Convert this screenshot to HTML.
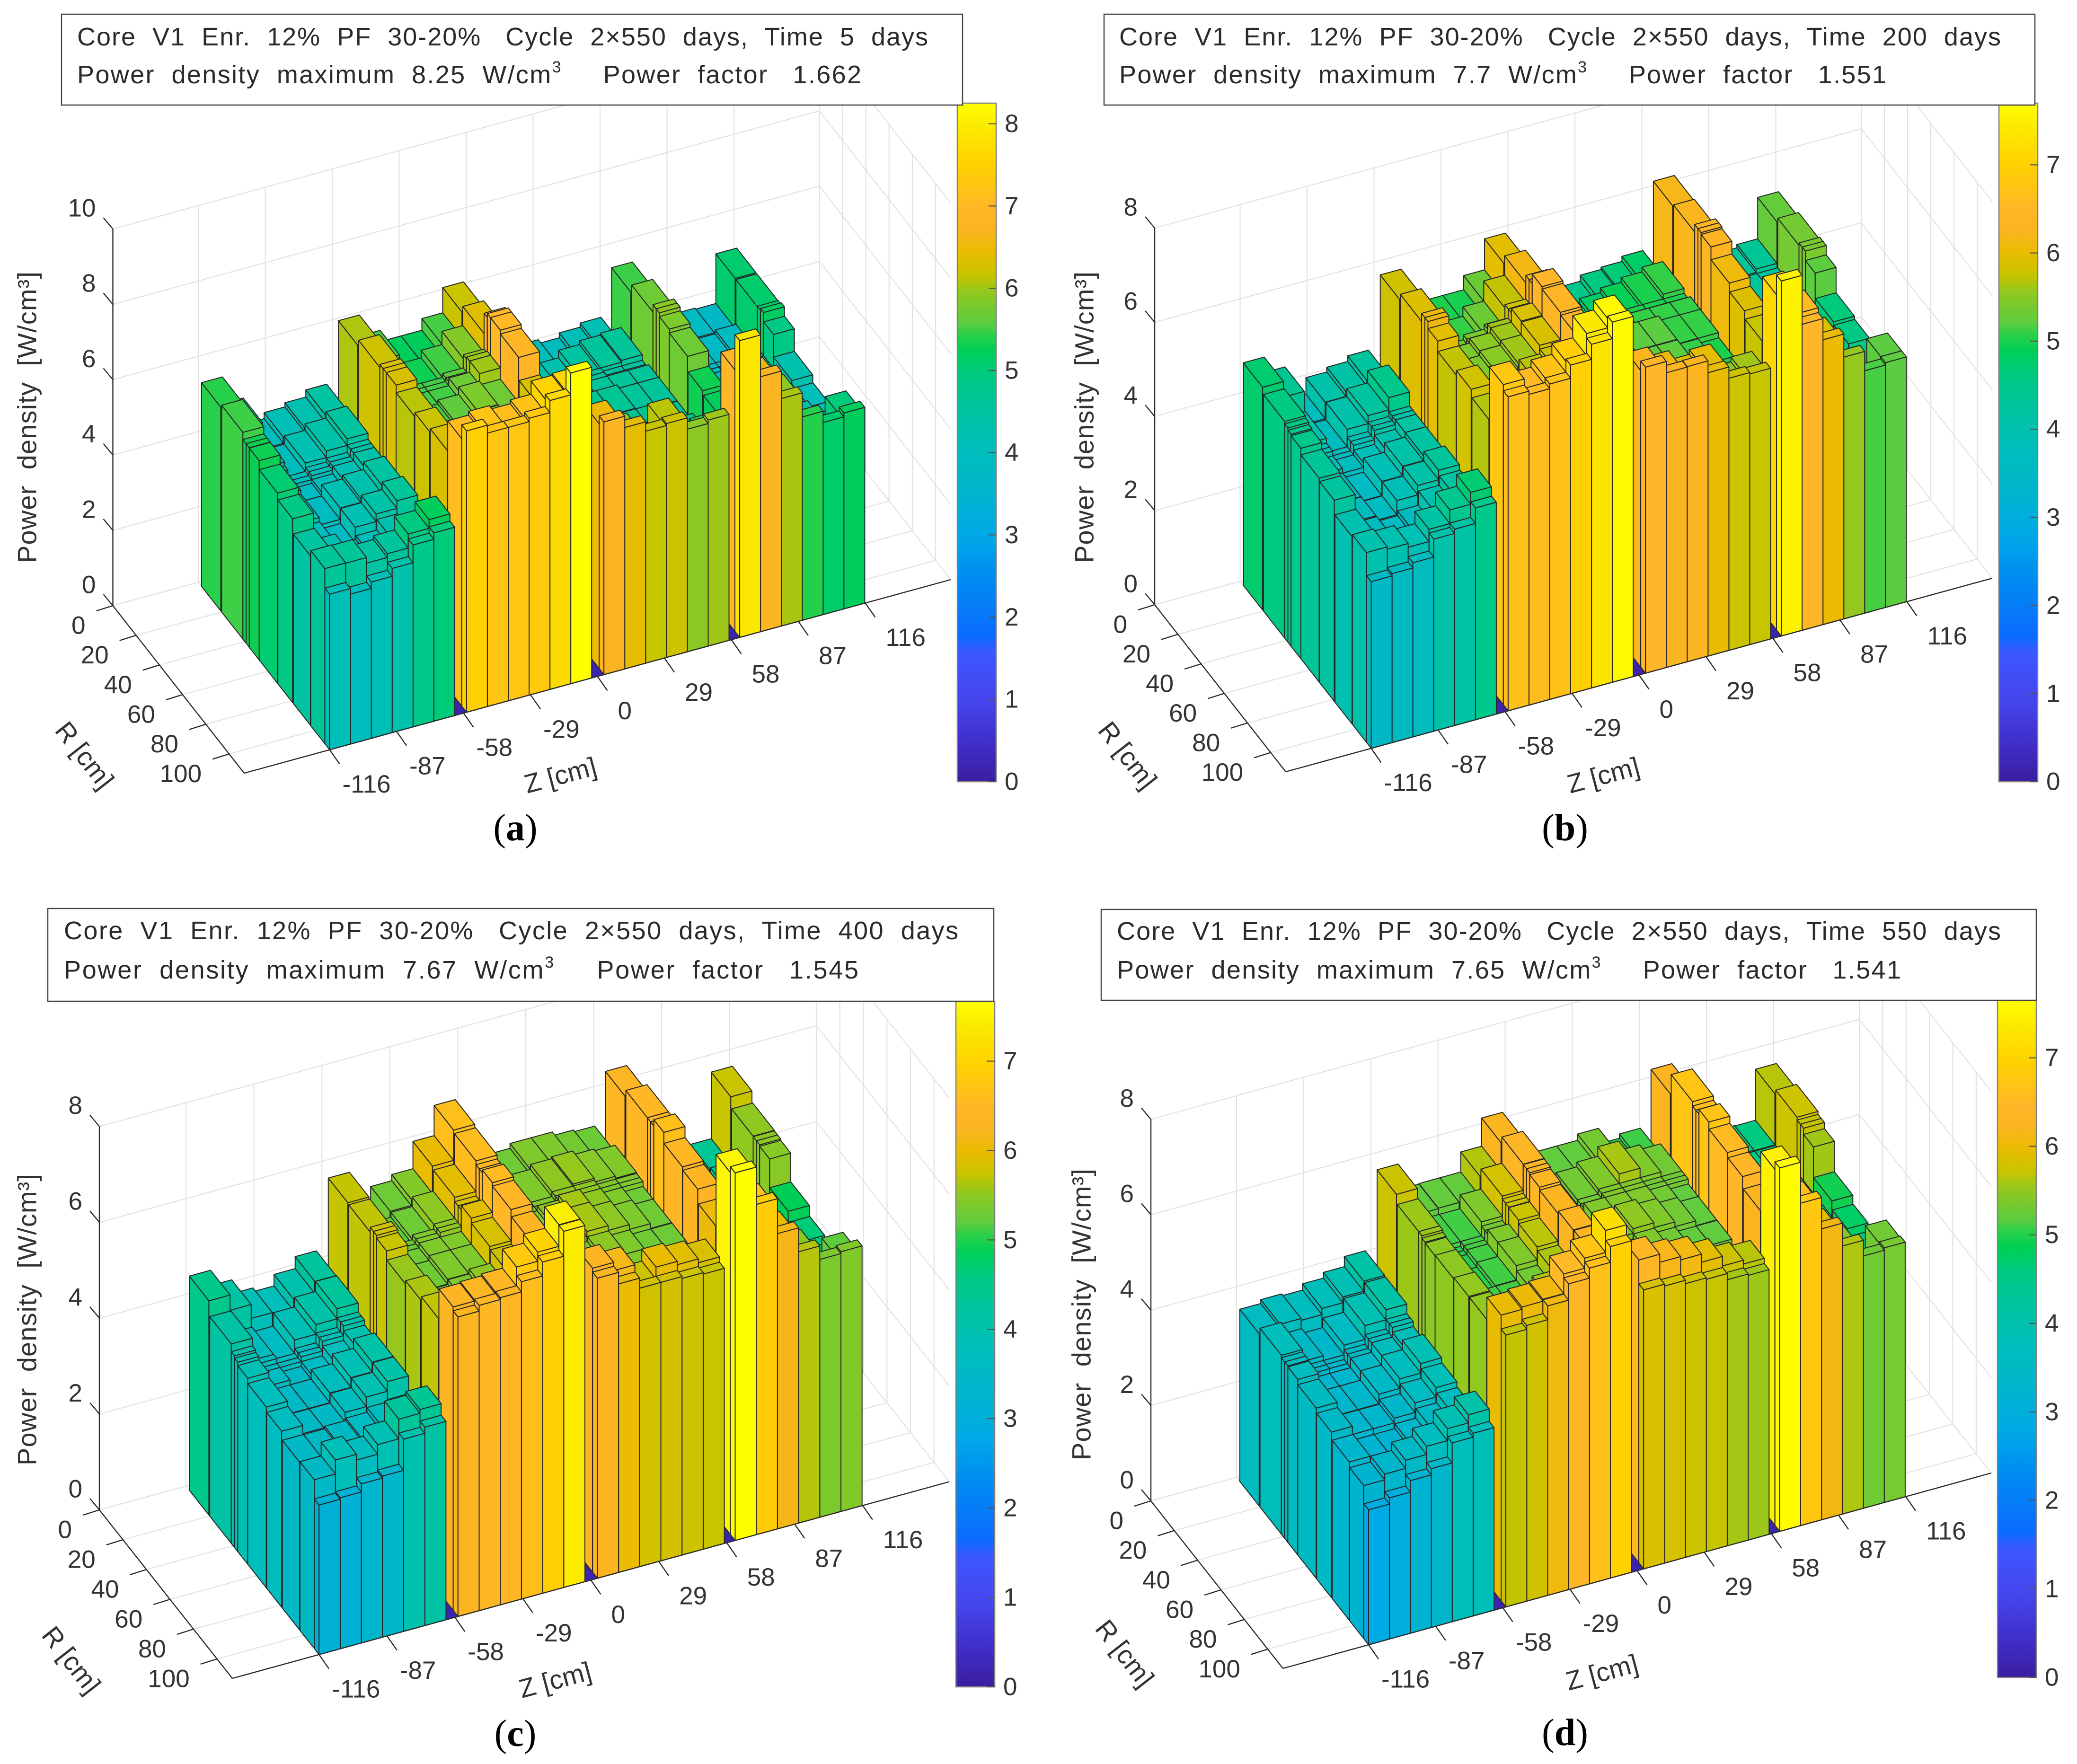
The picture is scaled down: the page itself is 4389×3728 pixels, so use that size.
<!DOCTYPE html>
<html lang="en">
<head>
<meta charset="utf-8">
<title>Power density 3D bar charts</title>
<style>
html,body{margin:0;padding:0;background:#fff}
svg{display:block}
text{font-family:"Liberation Sans",Arial,sans-serif;fill:#333;white-space:pre}
.hdr{font-size:54px;fill:#2a2a2a;dominant-baseline:central}
.sup{font-size:34px}
.cap{font-family:"Liberation Serif",serif;font-size:80px;fill:#000;text-anchor:middle;dominant-baseline:central}
.ttl{font-size:56px;text-anchor:middle;dominant-baseline:central}
.box{fill:#fff;stroke:#444;stroke-width:2.5}
</style>
</head>
<body>
<svg xmlns="http://www.w3.org/2000/svg" width="4389" height="3728" viewBox="0 0 4389 3728">
<defs id="defs"></defs>
<rect x="0" y="0" width="4389" height="3728" fill="#fff"/>

<g id="plot-a"></g>
<g id="plot-b"></g>
<g id="plot-c"></g>
<g id="plot-d"></g>

<g>
<rect class="box" x="130" y="30" width="1904" height="192"/>
<text class="hdr" x="163" y="78" textLength="1798" xml:space="preserve">Core  V1  Enr.  12%  PF  30-20%   Cycle  2×550  days,  Time  5  days</text>
<text class="hdr" x="163" y="158" textLength="1657" xml:space="preserve">Power  density  maximum  8.25  W/cm<tspan class="sup" dy="-16">3</tspan><tspan dy="16">     Power  factor   1.662</tspan></text>
</g>
<g>
<rect class="box" x="2333" y="30" width="1967" height="192"/>
<text class="hdr" x="2365" y="78" textLength="1863" xml:space="preserve">Core  V1  Enr.  12%  PF  30-20%   Cycle  2×550  days,  Time  200  days</text>
<text class="hdr" x="2365" y="158" textLength="1621" xml:space="preserve">Power  density  maximum  7.7  W/cm<tspan class="sup" dy="-16">3</tspan><tspan dy="16">     Power  factor   1.551</tspan></text>
</g>
<g>
<rect class="box" x="101" y="1920" width="1999" height="196"/>
<text class="hdr" x="135" y="1967" textLength="1890" xml:space="preserve">Core  V1  Enr.  12%  PF  30-20%   Cycle  2×550  days,  Time  400  days</text>
<text class="hdr" x="135" y="2050" textLength="1679" xml:space="preserve">Power  density  maximum  7.67  W/cm<tspan class="sup" dy="-16">3</tspan><tspan dy="16">     Power  factor   1.545</tspan></text>
</g>
<g>
<rect class="box" x="2327" y="1922" width="1976" height="192"/>
<text class="hdr" x="2360" y="1968" textLength="1868" xml:space="preserve">Core  V1  Enr.  12%  PF  30-20%   Cycle  2×550  days,  Time  550  days</text>
<text class="hdr" x="2360" y="2050" textLength="1657" xml:space="preserve">Power  density  maximum  7.65  W/cm<tspan class="sup" dy="-16">3</tspan><tspan dy="16">     Power  factor   1.541</tspan></text>
</g>

<text class="cap" x="1089" y="1750">(<tspan font-weight="bold">a</tspan>)</text>
<text class="cap" x="3307" y="1750">(<tspan font-weight="bold">b</tspan>)</text>
<text class="cap" x="1089" y="3664">(<tspan font-weight="bold">c</tspan>)</text>
<text class="cap" x="3307" y="3662">(<tspan font-weight="bold">d</tspan>)</text>
</svg>

<script>
// ---- chart data (heights in W/cm3, rows along R from back to front, 24 columns along Z) ----
const zTickLabels = [-116,-87,-58,-29,0,29,58,87,116];
const rTickLabels = [0,20,40,60,80,100];
const powerTicksA = [0,2,4,6,8,10];
const powerTicksB = [0,2,4,6,8];
const powerTicksC = [0,2,4,6,8];
const powerTicksD = [0,2,4,6,8];
const colorTicksA = [0,1,2,3,4,5,6,7,8];
const colorTicksB = [0,1,2,3,4,5,6,7];
const colorTicksC = [0,1,2,3,4,5,6,7];
const colorTicksD = [0,1,2,3,4,5,6,7];
const rowStartCm = [2.8,20.1,38.4,41.2,43.9,52.4,68.5,81.8,96.8,108.9];
const rowEndCm   = [19.4,38.4,41.2,43.9,52.4,68.2,81.2,96.5,108.9,113];
const blockStartCm = [-116,-56.7,2.8,61.6];
const columnWidthCm = 9.03;

const heightsA = [
[5.41,4.7,4.0,4.16,4.27,4.46,6.06,5.5,5.2,5.2,5.51,6.18,4.4,4.3,4.1,4.0,4.13,4.24,5.48,4.2,3.9,3.8,3.77,5.09],
[5.49,4.4,4.0,4.22,4.39,4.56,6.22,5.3,5.3,5.5,5.85,6.36,4.4,4.4,4.3,4.5,4.6,4.65,5.7,4.2,3.9,3.8,3.9,5.09],
[5.3,4.3,4.0,4.1,4.2,4.4,6.3,5.5,5.5,5.6,5.95,6.9,4.5,4.4,4.5,4.6,4.5,4.5,5.9,4.2,3.9,3.9,4.0,5.1],
[5.3,4.2,4.0,4.1,4.2,4.4,6.3,5.5,5.5,5.6,6.0,7.0,4.5,4.5,4.6,4.6,4.5,4.5,5.9,4.1,3.9,3.9,4.0,5.15],
[5.29,4.2,3.9,4.0,4.2,4.4,6.3,5.5,5.5,5.7,6.0,7.0,4.5,4.5,4.6,4.6,4.6,4.6,5.8,4.0,3.9,3.9,4.0,4.9],
[5.05,4.1,3.9,4.2,4.3,4.5,6.1,5.5,5.6,5.8,5.7,6.9,4.6,4.6,4.7,4.7,4.6,4.6,5.7,4.0,3.9,3.9,4.0,4.3],
[4.88,4.0,3.8,4.2,4.4,4.6,6.2,5.6,5.6,5.8,5.5,6.3,4.6,4.7,4.7,4.7,4.7,4.6,5.3,4.1,4.0,4.0,4.2,4.1],
[4.5,4.2,3.9,4.0,4.28,4.22,6.3,5.6,5.6,5.8,5.6,6.4,5.5,4.9,5.0,4.9,4.9,4.8,5.2,4.3,4.2,4.1,4.3,3.9],
[4.65,4.64,4.49,4.59,4.96,5.19,7.1,7.2,7.1,7.2,7.55,7.6,6.5,6.0,5.6,6.1,5.3,5.4,6.94,6.5,5.9,4.1,4.1,5.0],
[4.13,3.98,4.15,4.36,4.83,5.0,7.47,7.26,7.26,7.35,7.67,8.25,6.71,6.41,6.16,6.21,5.91,6.0,7.88,6.77,6.04,5.4,5.1,5.2]
];
const heightsB = [
[4.73,4.4,3.7,4.05,4.15,4.27,5.8,5.0,5.0,5.0,5.3,5.96,4.5,4.5,4.5,4.63,4.68,4.79,6.2,4.5,4.3,4.3,4.37,5.25],
[4.6,4.0,3.7,4.07,4.24,4.5,5.93,5.1,5.1,5.3,5.73,6.14,4.6,4.7,4.8,4.9,5.0,5.1,6.24,4.5,4.3,4.3,4.3,5.35],
[4.55,3.9,3.7,3.9,4.1,4.2,6.1,5.3,5.4,5.5,5.8,6.3,4.9,5.0,5.0,5.0,5.0,5.0,6.4,4.4,4.3,4.2,4.2,5.4],
[4.5,3.9,3.7,3.9,4.1,4.2,6.1,5.3,5.4,5.6,5.8,6.3,4.9,5.0,5.0,5.0,5.0,5.0,6.4,4.4,4.2,4.2,4.2,5.4],
[4.47,3.8,3.7,3.8,4.0,4.2,5.95,5.4,5.5,5.6,5.89,6.5,5.0,5.1,5.1,5.1,5.1,5.1,6.36,4.3,4.2,4.2,4.2,5.2],
[4.33,3.7,3.6,3.9,4.1,4.2,5.73,5.4,5.5,5.6,5.87,6.45,5.0,5.1,5.2,5.2,5.1,5.1,6.09,4.3,4.2,4.2,4.2,4.66],
[4.27,3.7,3.6,3.9,4.1,4.3,5.83,5.4,5.5,5.7,5.8,6.4,5.0,5.2,5.2,5.2,5.1,5.0,5.91,4.4,4.3,4.2,4.3,4.6],
[3.98,3.7,3.6,3.7,4.0,4.2,5.67,5.4,5.6,5.7,5.9,6.5,5.1,5.1,5.1,5.1,5.0,4.9,5.75,4.5,4.3,4.3,4.3,4.1],
[4.03,3.98,3.9,4.16,4.45,4.7,6.8,6.55,6.7,6.93,7.4,7.6,6.3,6.1,5.9,6.0,5.5,5.6,7.12,6.6,5.9,4.2,4.3,5.2],
[3.54,3.59,3.7,4.08,4.17,4.5,6.67,6.6,6.7,6.98,7.3,7.65,6.5,6.26,6.27,6.02,5.78,5.75,7.54,6.5,6.05,5.56,5.15,5.2]
];
const heightsC = [
[4.47,4.15,3.86,3.78,4.02,4.27,5.72,4.9,5.3,5.43,6.0,6.63,5.2,5.3,5.4,5.4,5.32,5.28,6.36,4.6,4.4,4.3,4.35,5.74],
[4.16,3.7,3.6,3.88,4.08,4.29,5.7,5.2,5.3,5.5,5.94,6.58,5.3,5.4,5.5,5.54,5.46,5.42,6.5,4.6,4.4,4.3,4.4,5.51],
[4.0,3.7,3.6,3.7,3.9,4.1,5.8,5.3,5.4,5.5,5.85,6.5,5.4,5.4,5.5,5.5,5.4,5.4,6.5,4.5,4.4,4.3,4.3,5.5],
[3.95,3.6,3.6,3.7,3.9,4.1,5.8,5.3,5.4,5.5,5.85,6.5,5.4,5.4,5.5,5.5,5.4,5.4,6.5,4.5,4.3,4.3,4.3,5.5],
[3.88,3.6,3.5,3.6,3.8,4.0,5.74,5.3,5.4,5.4,5.94,6.56,5.4,5.5,5.6,5.5,5.4,5.3,6.63,4.5,4.3,4.3,4.3,5.47],
[3.77,3.5,3.5,3.7,3.9,4.1,5.55,5.3,5.4,5.4,5.84,6.49,5.3,5.5,5.6,5.5,5.4,5.3,6.4,4.5,4.3,4.3,4.3,4.87],
[3.67,3.5,3.5,3.7,3.9,4.1,5.62,5.3,5.4,5.5,5.78,6.35,5.2,5.4,5.5,5.4,5.3,5.3,6.34,4.5,4.4,4.3,4.3,4.65],
[3.5,3.5,3.55,3.6,3.7,3.75,5.7,5.3,5.5,5.8,6.0,6.4,5.2,5.0,4.95,5.0,4.95,5.0,6.05,4.6,4.4,4.4,4.4,4.5],
[3.52,3.81,3.69,3.89,4.3,4.38,6.33,6.36,6.4,6.8,6.99,7.44,6.34,6.17,5.75,6.0,5.93,5.85,7.55,6.7,6.0,5.5,4.5,5.2],
[3.12,3.15,3.32,3.36,4.01,4.14,6.25,6.37,6.41,6.62,6.91,7.43,6.26,6.02,5.81,5.81,5.77,5.74,7.67,6.89,6.16,5.66,5.38,5.42]
];
const heightsD = [
[3.61,3.69,3.65,3.78,3.9,4.11,5.74,5.2,5.21,5.21,5.63,6.22,5.1,5.2,5.2,5.33,5.0,5.09,6.26,4.8,4.6,4.6,4.59,5.66],
[3.75,3.5,3.4,3.6,3.89,4.1,5.55,5.1,5.1,5.39,5.81,6.36,5.2,5.3,5.4,5.6,5.4,5.3,6.69,4.8,4.6,4.6,4.6,5.76],
[3.7,3.4,3.3,3.5,3.7,3.9,5.55,5.0,5.1,5.3,5.75,6.35,5.2,5.3,5.4,5.4,5.3,5.3,6.6,4.7,4.6,4.6,4.6,5.7],
[3.7,3.4,3.3,3.5,3.7,3.9,5.5,5.0,5.1,5.3,5.75,6.35,5.2,5.3,5.4,5.4,5.3,5.3,6.6,4.7,4.6,4.6,4.6,5.7],
[3.68,3.3,3.3,3.5,3.7,3.8,5.48,5.0,5.1,5.4,5.74,6.31,5.2,5.4,5.4,5.4,5.3,5.2,6.7,4.7,4.6,4.6,4.6,5.57],
[3.57,3.3,3.3,3.5,3.7,3.9,5.49,5.0,5.1,5.4,5.67,6.25,5.2,5.4,5.5,5.4,5.3,5.2,6.55,4.7,4.6,4.6,4.6,4.93],
[3.47,3.3,3.3,3.4,3.6,3.8,5.52,5.1,5.1,5.3,5.6,6.31,5.1,5.3,5.4,5.3,5.2,5.2,6.45,4.7,4.6,4.6,4.6,4.75],
[3.32,3.2,3.2,3.3,3.5,3.7,5.52,5.1,5.2,5.6,5.87,6.32,5.1,5.0,4.9,5.0,5.0,5.0,6.21,4.8,4.7,4.7,4.6,4.6],
[3.21,3.33,3.5,3.67,3.92,4.09,5.99,6.04,6.08,6.49,6.7,7.16,6.35,6.18,6.11,5.94,5.74,5.66,7.46,6.6,5.9,5.4,4.7,5.3],
[2.83,2.96,3.2,3.33,3.75,3.83,5.7,5.78,6.07,6.41,6.62,6.95,5.85,5.81,5.74,5.71,5.58,5.55,7.62,6.76,6.1,5.62,5.29,5.34]
];
const colorMaxima = [8.25,7.7,7.67,7.65];

// ---- colormap ----
const cmapStops = [[0,'#3a1f9e'],[.05,'#3f2cc4'],[.12,'#4545ec'],[.19,'#3c58ff'],[.215,'#0a6cff'],[.3,'#008cf0'],[.36,'#00a8e8'],[.42,'#00b4d0'],[.5,'#00bfb8'],[.56,'#00c59a'],[.6,'#00ca80'],[.635,'#00cf55'],[.66,'#2cd048'],[.675,'#5ccc40'],[.72,'#90c820'],[.747,'#c8c400'],[.78,'#e8bc00'],[.813,'#fbb520'],[.845,'#ffb628'],[.875,'#ffc414'],[.91,'#ffd200'],[.96,'#fbe800'],[1,'#ffff00']];
function hexRgb(h){return [parseInt(h.slice(1,3),16),parseInt(h.slice(3,5),16),parseInt(h.slice(5,7),16)];}
function cmap(t){
  t=Math.max(0,Math.min(1,t));
  for(let i=1;i<cmapStops.length;i++){
    if(t<=cmapStops[i][0]){
      const a=cmapStops[i-1],b=cmapStops[i],f=(t-a[0])/(b[0]-a[0]);
      const A=hexRgb(a[1]),B=hexRgb(b[1]);
      return 'rgb('+Math.round(A[0]+(B[0]-A[0])*f)+','+Math.round(A[1]+(B[1]-A[1])*f)+','+Math.round(A[2]+(B[2]-A[2])*f)+')';
    }
  }
  return '#ffff00';
}

// ---- layout of each panel ----
const panels = [
 {id:'a',heights:heightsA,power:powerTicksA,cticks:colorTicksA,cmax:colorMaxima[0],O:[238.5,1280],F:[516,1634],Rt:[2009,1225],k:79.6,top:10,cb:[2023,218,82,1434],yt:[57,882],rt:[179,1596],zt:[1184,1638]},
 {id:'b',heights:heightsB,power:powerTicksB,cticks:colorTicksB,cmax:colorMaxima[1],O:[2440,1278],F:[2717,1631],Rt:[4210,1222],k:99.5,top:8,cb:[4224,218,82,1434],yt:[2291,882],rt:[2383,1596],zt:[3388,1638]},
 {id:'c',heights:heightsC,power:powerTicksC,cticks:colorTicksC,cmax:colorMaxima[2],O:[210,3191],F:[491,3547],Rt:[2006,3131.5],k:101.3,top:8,cb:[2020,2116,82,1449],yt:[57,2789],rt:[151,3508],zt:[1173,3550]},
 {id:'d',heights:heightsD,power:powerTicksD,cticks:colorTicksD,cmax:colorMaxima[3],O:[2432,3172],F:[2711,3526],Rt:[4208,3113],k:100.8,top:8,cb:[4221,2114,82,1431],yt:[2285,2778],rt:[2377,3494],zt:[3385,3534]}
];
const RMAX=113, ZMIN=-153, ZMAX=153;
const SVGNS='http://www.w3.org/2000/svg';

function proj(p,R,Z,h){
  const a=R/RMAX, b=(Z-ZMIN)/(ZMAX-ZMIN);
  return [p.O[0]+a*(p.F[0]-p.O[0])+b*(p.Rt[0]-p.F[0]),
          p.O[1]+a*(p.F[1]-p.O[1])+b*(p.Rt[1]-p.F[1])-h*p.k];
}
function mk(tag,parent){const e=document.createElementNS(SVGNS,tag);parent.appendChild(e);return e;}
function line(parent,a,b,col,w){
  const l=mk('line',parent);
  l.setAttribute('x1',a[0].toFixed(1));l.setAttribute('y1',a[1].toFixed(1));
  l.setAttribute('x2',b[0].toFixed(1));l.setAttribute('y2',b[1].toFixed(1));
  l.setAttribute('stroke',col);l.setAttribute('stroke-width',w);
  return l;
}
function poly(parent,pts,fill){
  const e=mk('polygon',parent);
  e.setAttribute('points',pts.map(q=>q[0].toFixed(1)+','+q[1].toFixed(1)).join(' '));
  e.setAttribute('fill',fill);
  return e;
}
function label(parent,x,y,str,anchor){
  const t=mk('text',parent);
  t.setAttribute('x',x.toFixed(1));t.setAttribute('y',y.toFixed(1));
  t.setAttribute('font-size','53');
  t.setAttribute('text-anchor',anchor);
  t.setAttribute('dominant-baseline','central');
  t.textContent=str;
  return t;
}

function drawPanel(p){
  const root=document.getElementById('plot-'+p.id);

  // grid on walls and floor
  const grid=mk('g',root);
  
  
  const gc='#e2e2e2', gw=2.2;
  p.power.forEach(h=>{
    line(grid,proj(p,0,ZMIN,h),proj(p,0,ZMAX,h),gc,gw);
    line(grid,proj(p,0,ZMAX,h),proj(p,RMAX,ZMAX,h),gc,gw);
  });
  zTickLabels.forEach(z=>{
    line(grid,proj(p,0,z,0),proj(p,0,z,p.top),gc,gw);
    line(grid,proj(p,0,z,0),proj(p,RMAX,z,0),gc,gw);
  });
  rTickLabels.forEach(r=>{
    line(grid,proj(p,r,ZMAX,0),proj(p,r,ZMAX,p.top),gc,gw);
    line(grid,proj(p,r,ZMIN,0),proj(p,r,ZMAX,0),gc,gw);
  });
  line(grid,proj(p,0,ZMAX,0),proj(p,0,ZMAX,p.top),gc,gw);

  // zero-level floor under the bars (visible in the gaps between blocks)
  const R0=rowStartCm[0], R1=rowEndCm[rowEndCm.length-1];
  const lastZ=blockStartCm[3]+6*columnWidthCm;
  const floor=poly(root,[proj(p,R0,-116,0),proj(p,R0,lastZ,0),proj(p,R1,lastZ,0),proj(p,R1,-116,0)],cmap(0.02));
  
  

  // bars: back to front, right to left
  const bars=mk('g',root);
  
  
  bars.setAttribute('stroke','#262626');
  bars.setAttribute('stroke-width','2');
  bars.setAttribute('stroke-linejoin','round');
  for(let r=0;r<p.heights.length;r++){
    for(let c=23;c>=0;c--){
      const h=p.heights[r][c];
      const col=cmap(h/p.cmax);
      const z0=blockStartCm[Math.floor(c/6)]+(c%6)*columnWidthCm, z1=z0+columnWidthCm;
      const r0=rowStartCm[r], r1=rowEndCm[r];
      const bar=mk('g',bars);
      
      
      poly(bar,[proj(p,r0,z0,0),proj(p,r1,z0,0),proj(p,r1,z0,h),proj(p,r0,z0,h)],col);
      poly(bar,[proj(p,r1,z0,0),proj(p,r1,z1,0),proj(p,r1,z1,h),proj(p,r1,z0,h)],col);
      poly(bar,[proj(p,r0,z0,h),proj(p,r0,z1,h),proj(p,r1,z1,h),proj(p,r1,z0,h)],col);
    }
  }

  // axes
  const axes=mk('g',root);
  
  
  const ac='#2a2a2a', aw=2.4;
  line(axes,p.O,[p.O[0],p.O[1]-p.top*p.k],ac,aw);
  line(axes,p.O,p.F,ac,aw);
  line(axes,p.F,p.Rt,ac,aw);

  const zt=mk('g',axes);
  
  
  zTickLabels.forEach(z=>{
    const b=proj(p,RMAX,z,0);
    line(zt,b,[b[0]+21,b[1]+30],ac,aw);
    label(zt,b[0]+(z<0?27:43),b[1]+73,String(z),'start');
  });
  const rt=mk('g',axes);
  
  
  rTickLabels.forEach(r=>{
    const b=proj(p,r,ZMIN,0);
    line(rt,b,[b[0]-35,b[1]+11],ac,aw);
    label(rt,b[0]-58,b[1]+42,String(r),'end');
  });
  const pt=mk('g',axes);
  
  
  p.power.forEach(h=>{
    const b=proj(p,0,ZMIN,h);
    line(pt,b,[b[0]-20,b[1]-24],ac,aw);
    label(pt,b[0]-36,b[1]-44,String(h),'end');
  });

  // axis titles
  const yt=mk('text',root);
  yt.setAttribute('class','ttl');
  yt.setAttribute('x',p.yt[0]);yt.setAttribute('y',p.yt[1]);
  yt.setAttribute('textLength','616');
  yt.setAttribute('transform','rotate(-90 '+p.yt[0]+' '+p.yt[1]+')');
  
  
  yt.textContent='Power  density  [W/cm³]';
  const rtt=mk('text',root);
  rtt.setAttribute('class','ttl');
  rtt.setAttribute('x',p.rt[0]);rtt.setAttribute('y',p.rt[1]);
  rtt.setAttribute('transform','rotate(52 '+p.rt[0]+' '+p.rt[1]+')');
  
  
  rtt.textContent='R [cm]';
  const ztt=mk('text',root);
  ztt.setAttribute('class','ttl');
  ztt.setAttribute('x',p.zt[0]);ztt.setAttribute('y',p.zt[1]);
  ztt.setAttribute('transform','rotate(-15 '+p.zt[0]+' '+p.zt[1]+')');
  
  
  ztt.textContent='Z [cm]';

  // colorbar
  const defs=document.getElementById('defs');
  const gr=mk('linearGradient',defs);
  gr.setAttribute('id','grad-'+p.id);
  gr.setAttribute('x1','0');gr.setAttribute('y1','1');gr.setAttribute('x2','0');gr.setAttribute('y2','0');
  cmapStops.forEach(s=>{
    const st=mk('stop',gr);
    st.setAttribute('offset',s[0]);
    st.setAttribute('stop-color',s[1]);
  });
  const cb=mk('g',root);
  
  
  const rc=mk('rect',cb);
  rc.setAttribute('x',p.cb[0]);rc.setAttribute('y',p.cb[1]);
  rc.setAttribute('width',p.cb[2]);rc.setAttribute('height',p.cb[3]);
  rc.setAttribute('fill','url(#grad-'+p.id+')');
  rc.setAttribute('stroke','#808080');rc.setAttribute('stroke-width','2.5');
  p.cticks.forEach(v=>{
    const y=p.cb[1]+p.cb[3]*(1-v/p.cmax);
    const xr=p.cb[0]+p.cb[2];
    line(cb,[xr-16,y],[xr,y],'#555',2.2);
    label(cb,xr+18,y,String(v),'start');
  });
}
panels.forEach(drawPanel);
</script>
</body>
</html>
